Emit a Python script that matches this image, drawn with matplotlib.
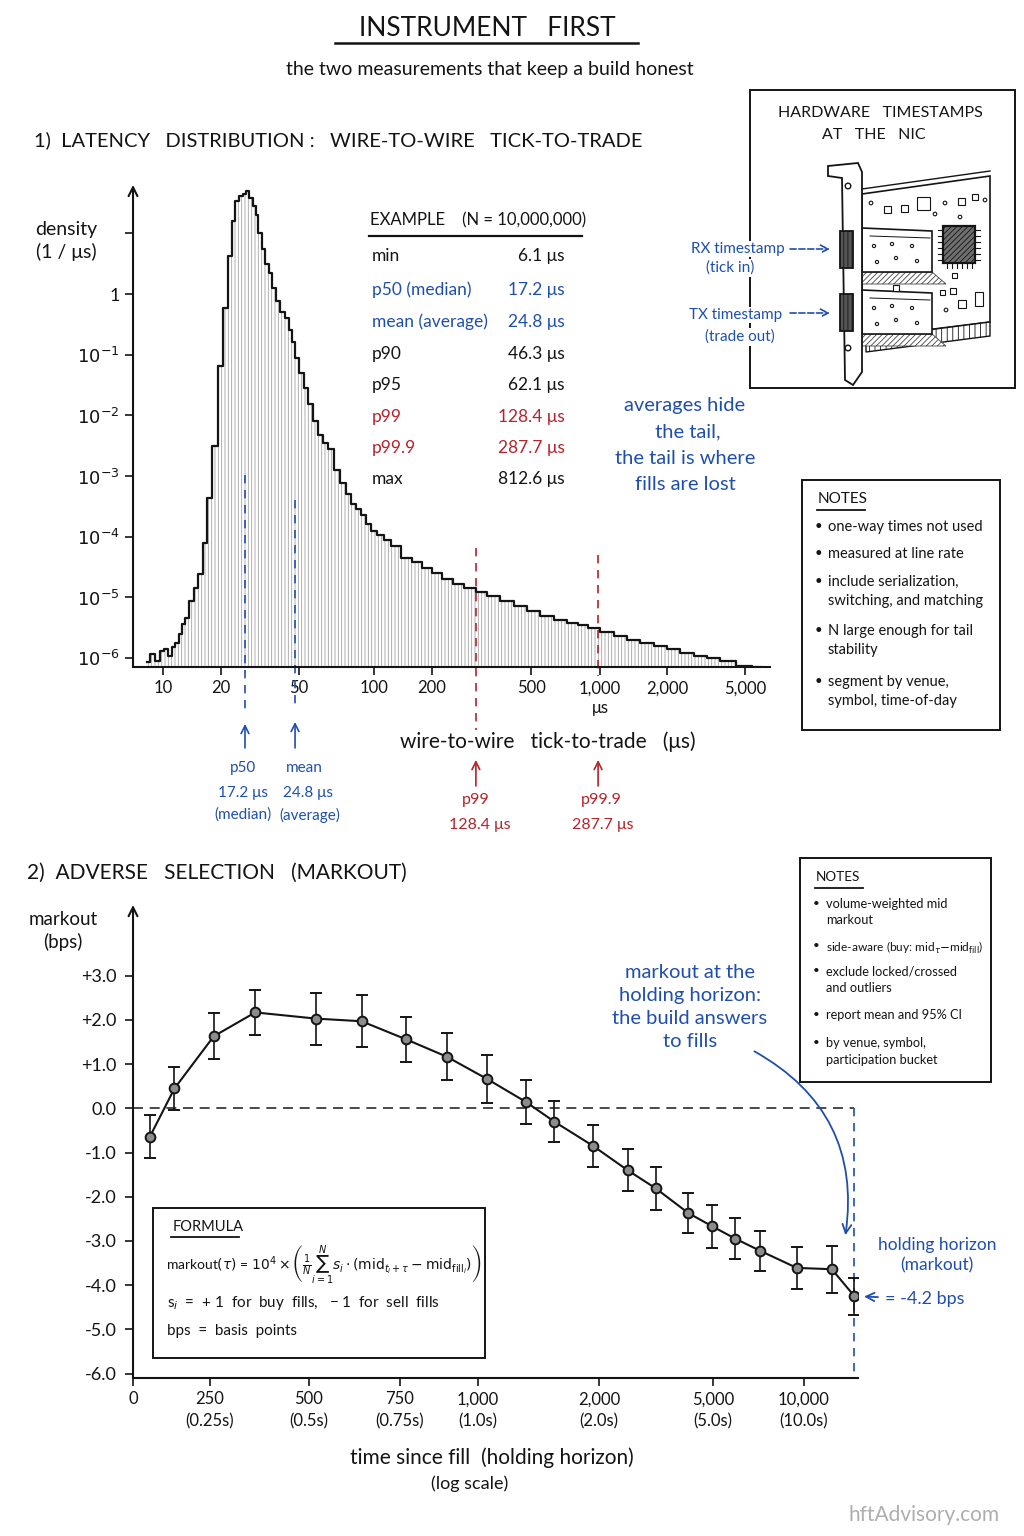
import numpy as np
import matplotlib
matplotlib.use("Agg")
import matplotlib.pyplot as plt
from matplotlib import transforms
from matplotlib.patches import Rectangle, Polygon, Circle, FancyArrowPatch
from matplotlib.ticker import FixedLocator, NullLocator

plt.rcParams['font.family'] = ['Lato', 'DejaVu Sans']
plt.rcParams['mathtext.fontset'] = 'dejavusans'
plt.rcParams['hatch.linewidth'] = 0.6

BLUE = '#1f4fae'
RED = '#b3242c'
INK = '#141414'

# ---------------- 1) latency histogram ----------------
lat_us = [8.46, 8.91, 9.39, 9.9, 10.4, 10.9, 11.4, 11.8, 12.3, 12.7, 13.3, 14.1, 14.8,
          15.6, 16.5, 17.5, 18.6, 19.8, 21.0, 22.2, 23.3, 24.1, 25.3, 26.2, 27.2,
          28.5, 29.5, 30.5, 31.6, 32.8, 34.3, 35.6, 37.3, 38.6, 41.0, 43.4, 45.0,
          46.6, 48.9, 51.4, 53.4, 55.4, 58.0, 60.7, 63.6, 66.6, 71.0, 75.1, 78.7,
          82.4, 86.3, 90.3, 94.6, 99.1, 107, 117, 129, 148, 167, 188, 210, 230,
          254, 284, 315, 352, 401, 452, 510, 587, 669, 763, 843, 932, 1075, 1230,
          1407, 1627, 1861, 2146, 2531, 2947, 3434, 4047, 4886, 5965]
log_density = [-6.07, -5.93, -6.05, -5.88, -5.85, -5.97, -5.82, -5.75, -5.60, -5.45,
               -5.35, -5.06, -4.85, -4.61, -4.10, -3.36, -2.50, -1.19, -0.23, 0.63,
               1.20, 1.54, 1.62, 1.65, 1.70, 1.58, 1.45, 1.31, 1.00, 0.74, 0.50, 0.35,
               0.10, -0.12, -0.30, -0.40, -0.60, -0.79, -1.05, -1.31, -1.55, -1.82,
               -2.10, -2.33, -2.45, -2.56, -2.91, -3.12, -3.30, -3.47, -3.55, -3.64,
               -3.80, -3.90, -3.98, -4.05, -4.15, -4.35, -4.42, -4.51, -4.60, -4.70,
               -4.78, -4.84, -4.92, -4.98, -5.06, -5.14, -5.22, -5.31, -5.37, -5.42,
               -5.46, -5.50, -5.58, -5.64, -5.70, -5.75, -5.80, -5.85, -5.92, -5.97,
               -6.01, -6.05, -6.13, -6.15]
density = 10.0 ** np.array(log_density)

lat_ticks = [10, 20, 50, 100, 200, 500, 1000, 2000, 5000]
lat_tick_labels = ['10', '20', '50', '100', '200', '500', '1,000', '2,000', '5,000']
dens_ticks = [1e-6, 1e-5, 1e-4, 1e-3, 1e-2, 1e-1, 1, 10]
dens_tick_labels = [r'$10^{-6}$', r'$10^{-5}$', r'$10^{-4}$', r'$10^{-3}$',
                    r'$10^{-2}$', r'$10^{-1}$', '1', '']

stat_names = ['min', 'p50 (median)', 'mean (average)', 'p90', 'p95', 'p99', 'p99.9', 'max']
stat_values = [6.1, 17.2, 24.8, 46.3, 62.1, 128.4, 287.7, 812.6]
stat_kind = ['plain', 'centre', 'centre', 'plain', 'plain', 'tail', 'tail', 'plain']

# where the marker lines sit on the drawn axis
marker_names = ['p50', 'mean', 'p99', 'p99.9']
marker_at_us = [26.5, 47.7, 300, 980]

# ---------------- 2) markout curve ----------------
horizon_ms = [55, 135, 260, 365, 520, 645, 770, 900, 1080, 1400, 1630, 1950, 2750,
              3490, 4350, 4980, 6230, 7580, 9610, 13100, 15600]
markout_bps = [-0.64, 0.45, 1.63, 2.17, 2.03, 1.97, 1.56, 1.17, 0.66, 0.14, -0.30,
               -0.85, -1.40, -1.81, -2.37, -2.67, -2.95, -3.22, -3.61, -3.64, -4.25]
ci95_bps = [0.48, 0.48, 0.52, 0.51, 0.59, 0.59, 0.51, 0.53, 0.54, 0.50, 0.47, 0.48,
            0.48, 0.48, 0.45, 0.48, 0.47, 0.45, 0.48, 0.53, 0.42]

horizon_ticks = [0, 250, 500, 750, 1000, 2000, 5000, 10000]
horizon_tick_labels = ['0', '250\n(0.25s)', '500\n(0.5s)', '750\n(0.75s)', '1,000\n(1.0s)',
                       '2,000\n(2.0s)', '5,000\n(5.0s)', '10,000\n(10.0s)']
markout_ticks = [3, 2, 1, 0, -1, -2, -3, -4, -5, -6]
markout_tick_labels = ['+3.0', '+2.0', '+1.0', '0.0', '-1.0', '-2.0', '-3.0', '-4.0',
                       '-5.0', '-6.0']

# both hand-drawn x axes are uneven: tick value -> spacing along the axis
lat_knots_val = [7, 10, 20, 50, 100, 200, 500, 1000, 2000, 5000, 10000]
lat_knots_pos = [129, 163, 221, 299, 374, 432, 531, 600, 667, 745, 804]
hor_knots_val = [0, 250, 500, 750, 1000, 2000, 5000, 10000, 20000]
hor_knots_pos = [133, 209.5, 308, 399, 476.5, 597.5, 711, 801.5, 891.5]
lat_knots_log = np.log10(lat_knots_val)


def lat_fwd(v):
    v = np.clip(np.asarray(v, dtype=float), 1e-3, None)
    return np.interp(np.log10(v), lat_knots_log, lat_knots_pos)


def lat_inv(p):
    return 10.0 ** np.interp(p, lat_knots_pos, lat_knots_log)


def hor_fwd(v):
    return np.interp(v, hor_knots_val, hor_knots_pos)


def hor_inv(p):
    return np.interp(p, hor_knots_pos, hor_knots_val)


fig = plt.figure(figsize=(10.24, 15.36), dpi=100)
fig.patch.set_facecolor('white')


def style_axes(ax):
    for s in ['top', 'right', 'left']:
        ax.spines[s].set_visible(False)
    ax.spines['bottom'].set_linewidth(1.5)
    ax.spines['bottom'].set_color(INK)
    ax.annotate('', xy=(0, 1.0), xytext=(0, 0), xycoords='axes fraction',
                arrowprops=dict(arrowstyle='->', color=INK, lw=1.5,
                                shrinkA=0, shrinkB=0, mutation_scale=16))
    ax.tick_params(direction='out', length=6, width=1.2, colors=INK, labelsize=12)
    ax.set_facecolor('none')


# ---------------- panel 1 ----------------
ax1 = fig.add_axes([0.1299, 0.5658, 0.6221, 0.3138])
ax1.set_xscale('function', functions=(lat_fwd, lat_inv))
ax1.set_yscale('log')
ax1.fill_between(lat_us, 1e-8, density, step='mid', facecolor='white',
                 hatch='|||||', edgecolor='#a2a2a2', linewidth=0)
ax1.step(lat_us, density, where='mid', color=INK, lw=1.6)
ax1.set_xlim(7.3, 6700)
ax1.set_ylim(10 ** -6.15, 10 ** 1.8)
style_axes(ax1)
ax1.xaxis.set_major_locator(FixedLocator(lat_ticks))
ax1.set_xticklabels(lat_tick_labels)
ax1.xaxis.set_minor_locator(NullLocator())
ax1.yaxis.set_major_locator(FixedLocator(dens_ticks))
ax1.set_yticklabels(dens_tick_labels)
ax1.yaxis.set_minor_locator(NullLocator())
ax1.tick_params(axis='y', labelsize=13)

tr1 = transforms.blended_transform_factory(ax1.transData, ax1.transAxes)


def f1(py):
    return (667 - py) / 482.0


line_span = [(475, 712), (500, 706), (548, 730), (555, 676)]
arrow_span = [(748, 724), (748, 722), (786, 760), (786, 760)]
marker_color = [BLUE, BLUE, RED, RED]
for x, (ya, yb), (aa, ab), c in zip(marker_at_us, line_span, arrow_span, marker_color):
    ax1.plot([x, x], [f1(ya), f1(yb)], transform=tr1, color=c, lw=1.2,
             ls=(0, (5, 4)), clip_on=False)
    ax1.annotate('', xy=(x, f1(ab)), xytext=(x, f1(aa)), xycoords=tr1, textcoords=tr1,
                 arrowprops=dict(arrowstyle='->', color=c, lw=1.2, shrinkA=0, shrinkB=0,
                                 mutation_scale=14), annotation_clip=False)

# ---------------- panel 2 ----------------
ax2 = fig.add_axes([0.1299, 0.1029, 0.708, 0.3079])
ax2.set_xscale('function', functions=(hor_fwd, hor_inv))
ax2.plot([0, horizon_ms[-1]], [0, 0], color='#2a2a2a', lw=1.2, ls=(0, (6, 4)))
ax2.plot([horizon_ms[-1], horizon_ms[-1]], [0, -6.1], color=BLUE, lw=1.2,
         ls=(0, (5, 4)), clip_on=False)
ax2.errorbar(horizon_ms, markout_bps, yerr=ci95_bps, fmt='-o', color=INK, lw=1.5,
             ms=7, mfc='#8c8c8c', mec=INK, mew=1.4, capsize=4, elinewidth=1.2,
             capthick=1.2, zorder=5)
ax2.set_xlim(0, 16000)
ax2.set_ylim(-6.1, 4.6)
style_axes(ax2)
ax2.xaxis.set_major_locator(FixedLocator(horizon_ticks))
ax2.set_xticklabels(horizon_tick_labels, linespacing=1.5)
ax2.xaxis.set_minor_locator(NullLocator())
ax2.yaxis.set_major_locator(FixedLocator(markout_ticks))
ax2.set_yticklabels(markout_tick_labels)
ax2.tick_params(axis='y', labelsize=13, pad=6)
ax2.annotate('= -4.2 bps', xy=(horizon_ms[-1], markout_bps[-1]), xytext=(22, -2),
             textcoords='offset points', ha='left', va='center', color=BLUE,
             fontsize=13, arrowprops=dict(arrowstyle='->', color=BLUE, lw=1.3,
                                          shrinkA=3, shrinkB=7, mutation_scale=15),
             annotation_clip=False)

# ---------------- overlay in pixel coordinates ----------------
ov = fig.add_axes([0, 0, 1, 1])
ov.set_xlim(0, 1024)
ov.set_ylim(1536, 0)
ov.axis('off')
ov.patch.set_alpha(0)


def t(x, y, s, **kw):
    kw.setdefault('color', INK)
    kw.setdefault('va', 'center')
    ov.text(x, y, s, **kw)


# titles
t(487, 28, 'INSTRUMENT   FIRST', ha='center', fontsize=19)
ov.plot([335, 638], [43, 43], color=INK, lw=1.8)
t(490, 69, 'the two measurements that keep a build honest', ha='center', fontsize=14)
t(34, 140, '1)  LATENCY   DISTRIBUTION :   WIRE-TO-WIRE   TICK-TO-TRADE', fontsize=14.5)
t(27, 873, '2)  ADVERSE   SELECTION   (MARKOUT)', fontsize=15)

# panel 1 labels
t(66, 241, 'density\n(1 / μs)', ha='center', fontsize=14, linespacing=1.3)
t(600, 708, 'μs', ha='center', fontsize=12)
t(548, 742, 'wire-to-wire   tick-to-trade   (μs)', ha='center', fontsize=15)
t(243, 768, 'p50', ha='center', fontsize=11, color=BLUE)
t(243, 793, '17.2 μs', ha='center', fontsize=11, color=BLUE)
t(243, 815, '(median)', ha='center', fontsize=11, color=BLUE)
t(304, 768, 'mean', ha='center', fontsize=11, color=BLUE)
t(308, 793, '24.8 μs', ha='center', fontsize=11, color=BLUE)
t(310, 815, '(average)', ha='center', fontsize=11, color=BLUE)
t(476, 800, 'p99', ha='center', fontsize=11.5, color=RED)
t(480, 825, '128.4 μs', ha='center', fontsize=11.5, color=RED)
t(601, 800, 'p99.9', ha='center', fontsize=11.5, color=RED)
t(603, 825, '287.7 μs', ha='center', fontsize=11.5, color=RED)

# stats table
t(370, 220, 'EXAMPLE    (N = 10,000,000)', fontsize=12)
ov.plot([369, 582], [236, 236], color=INK, lw=1.6)
kind_color = {'plain': INK, 'centre': BLUE, 'tail': RED}
row_y = [256, 290, 322, 354, 385, 417, 448, 479]
for name, val, kind, y in zip(stat_names, stat_values, stat_kind, row_y):
    t(372, y, name, fontsize=12.5, color=kind_color[kind])
    t(565, y, f'{val:,.1f} μs', ha='right', fontsize=12.5, color=kind_color[kind])

t(685, 445, 'averages hide\n the tail,\nthe tail is where\nfills are lost',
  ha='center', fontsize=14.5, color=BLUE, linespacing=1.65)

# NIC sketch
ov.add_patch(Rectangle((750, 90), 265, 298, fill=False, ec=INK, lw=1.4))
t(880, 113, 'HARDWARE   TIMESTAMPS', ha='center', fontsize=11.5)
t(874, 135, 'AT   THE   NIC', ha='center', fontsize=11.5)
ov.add_patch(Polygon([(862, 194), (990, 176), (990, 322), (862, 338)], fc='white', ec=INK, lw=1.2))
ov.plot([862, 990], [189, 171], color=INK, lw=1.0)
ov.add_patch(Polygon([(866, 338), (990, 322), (990, 336), (866, 352)], fc='white', ec=INK,
                     lw=1.0, hatch='|||'))
for y0 in (228, 290):
    ov.add_patch(Polygon([(862, y0 + 44), (932, y0 + 44), (946, y0 + 56), (862, y0 + 56)],
                         fc='white', ec='#444', lw=0.6, hatch='//////'))
    ov.add_patch(Polygon([(862, y0), (932, y0 + 3), (932, y0 + 44), (862, y0 + 44)],
                         fc='white', ec=INK, lw=1.2))
    ov.plot([870, 930], [y0 + 8, y0 + 10], color=INK, lw=0.7)
    for dx, dy in [(12, 18), (30, 16), (50, 18), (15, 34), (34, 30), (55, 33)]:
        ov.add_patch(Circle((862 + dx, y0 + dy), 1.6, fc='none', ec=INK, lw=0.8))
ov.add_patch(Polygon([(828, 166), (858, 163), (862, 172), (862, 372), (853, 385),
                      (845, 380), (842, 178), (828, 176)], fc='white', ec=INK, lw=1.3))
for y0 in (231, 294):
    ov.add_patch(Rectangle((840, y0), 13, 37, fc='#555555', ec=INK, lw=1.3, hatch='||||'))
for yc in (186, 348):
    ov.add_patch(Circle((848, yc), 2.8, fc='white', ec=INK, lw=1.0))
ov.add_patch(Rectangle((943, 226), 32, 37, fc='#6f6f6f', ec=INK, lw=1.6, hatch='//////'))
for k in range(6):
    ov.plot([938, 942], [230 + 6 * k, 230 + 6 * k], color=INK, lw=0.8)
    ov.plot([976, 980], [230 + 6 * k, 230 + 6 * k], color=INK, lw=0.8)
    ov.plot([947 + 5 * k, 947 + 5 * k], [264, 268], color=INK, lw=0.8)
for (x0, y0, w, h) in [(884, 206, 7, 7), (901, 205, 7, 7), (917, 197, 13, 13),
                       (958, 198, 7, 7), (972, 194, 6, 6), (893, 285, 6, 6),
                       (950, 288, 6, 6), (958, 300, 8, 8), (975, 292, 8, 14),
                       (952, 273, 5, 5), (940, 290, 5, 5)]:
    ov.add_patch(Rectangle((x0, y0), w, h, fc='white', ec=INK, lw=0.8))
for (xc, yc) in [(871, 203), (945, 203), (985, 200), (935, 214), (960, 217), (946, 310)]:
    ov.add_patch(Circle((xc, yc), 1.8, fc='none', ec=INK, lw=0.8))

box_bg = dict(fc='white', ec='none', pad=1)
t(738, 249, 'RX timestamp', ha='center', fontsize=11, color=BLUE, bbox=box_bg)
t(730, 268, '(tick in)', ha='center', fontsize=11, color=BLUE, bbox=box_bg)
t(736, 315, 'TX timestamp', ha='center', fontsize=11, color=BLUE, bbox=box_bg)
t(740, 337, '(trade out)', ha='center', fontsize=11, color=BLUE, bbox=box_bg)
for y in (249, 313):
    ov.annotate('', xy=(830, y), xytext=(790, y),
                arrowprops=dict(arrowstyle='->', color=BLUE, lw=1.2, ls='--',
                                shrinkA=0, shrinkB=0, mutation_scale=14))


def notes_box(x0, y0, x1, y1, items, size):
    ov.add_patch(Rectangle((x0, y0), x1 - x0, y1 - y0, fill=False, ec=INK, lw=1.4))
    t(x0 + 16, y0 + 19, 'NOTES', fontsize=size + 0.5)
    ov.plot([x0 + 15, x0 + 63], [y0 + 30, y0 + 30], color=INK, lw=1.3)
    for item in items:
        y, txt = item[0], item[1]
        fs = item[2] if len(item) > 2 else size
        t(x0 + 13, y, '•', fontsize=size - 1, va='top')
        t(x0 + 26, y, txt, fontsize=fs, linespacing=1.45, va='top')


notes_box(802, 480, 1000, 730, [
    (520, 'one-way times not used'),
    (547, 'measured at line rate'),
    (575, 'include serialization,\nswitching, and matching'),
    (624, 'N large enough for tail\nstability'),
    (675, 'segment by venue,\nsymbol, time-of-day'),
], 10.5)
notes_box(800, 858, 991, 1082, [
    (898, 'volume-weighted mid\nmarkout'),
    (940, r'side-aware (buy: mid$_\tau$$-$mid$_{\rm fill}$)', 8.6),
    (965, 'exclude locked/crossed\nand outliers'),
    (1009, 'report mean and 95% CI'),
    (1037, 'by venue, symbol,\nparticipation bucket'),
], 9.2)

# panel 2 labels
t(63, 931, 'markout\n(bps)', ha='center', fontsize=13.5, linespacing=1.3)
t(690, 1007, 'markout at the\nholding horizon:\nthe build answers\nto fills',
  ha='center', fontsize=14.5, color=BLUE, linespacing=1.45)
ov.add_patch(FancyArrowPatch((752, 1050), (845, 1238), connectionstyle='arc3,rad=-0.35',
                             arrowstyle='->', color=BLUE, lw=1.3, mutation_scale=16))
t(937, 1255, 'holding horizon\n(markout)', ha='center', fontsize=12.5, color=BLUE,
  linespacing=1.35)

# formula box
ov.add_patch(Rectangle((153, 1208), 332, 150, fill=False, ec=INK, lw=1.4))
t(173, 1227, 'FORMULA', fontsize=10.5)
ov.plot([171, 239], [1237, 1237], color=INK, lw=1.3)
t(166, 1265, r'markout$(\tau)$ = $10^4 \times \left(\frac{1}{N}\sum_{i=1}^{N} s_i \cdot '
             r'(\mathrm{mid}_{t_i+\tau} - \mathrm{mid}_{\mathrm{fill}_i})\right)$', fontsize=10)
t(167, 1303, r's$_i$  =  + 1  for  buy  fills,   − 1  for  sell  fills', fontsize=11)
t(167, 1331, 'bps  =  basis  points', fontsize=11)

t(492, 1458, 'time since fill  (holding horizon)', ha='center', fontsize=15)
t(470, 1484, '(log scale)', ha='center', fontsize=13)
t(1000, 1515, 'hftAdvisory.com', ha='right', fontsize=15, color='#9a9a9a', alpha=0.8)

fig.savefig('out.png', dpi=100, facecolor='white')
